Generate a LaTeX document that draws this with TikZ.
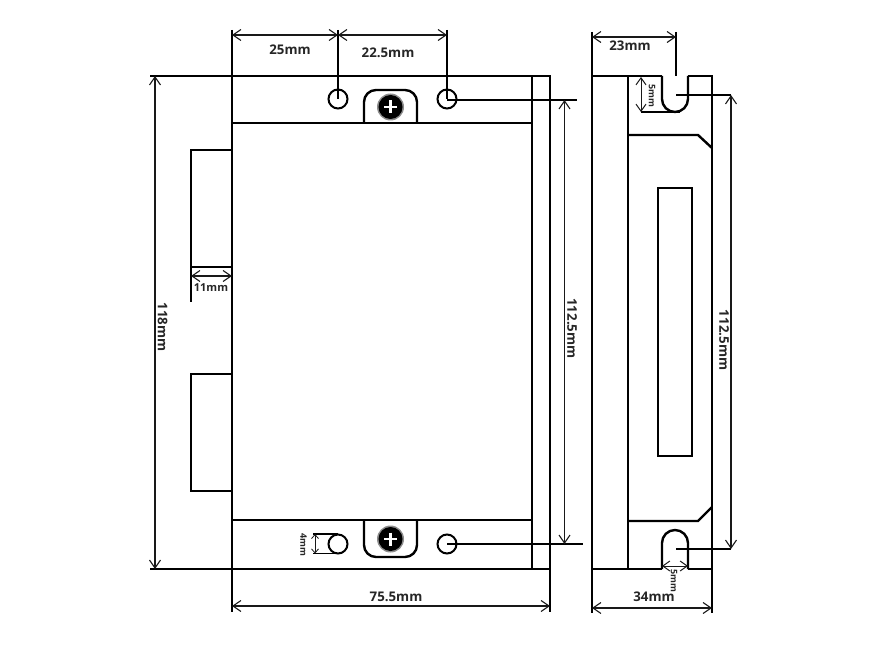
\documentclass[tikz,border=0pt]{standalone}
\usepackage{fontspec}
\setmainfont{Open Sans}
\usetikzlibrary{arrows.meta}
\tikzset{
  body/.style={draw=black,line width=2.4pt,line join=miter},
  dimline/.style={draw=black!90,line width=1.1pt,{Straight Barb[length=8pt,width=11pt,line width=1.1pt]}-{Straight Barb[length=8pt,width=11pt,line width=1.1pt]}},
  thindim/.style={draw=black!90,line width=1pt,{Straight Barb[length=7pt,width=10pt,line width=1pt]}-{Straight Barb[length=7pt,width=10pt,line width=1pt]}},
  tinydim/.style={draw=black!90,line width=0.8pt,{Straight Barb[length=4pt,width=7pt,line width=0.8pt]}-{Straight Barb[length=4pt,width=7pt,line width=0.8pt]}},
  extline/.style={draw=black,line width=1.3pt},
  hole/.style={draw=black,line width=2pt,circle,minimum size=19pt,inner sep=0pt},
  lab/.style={font=\fontsize{13.3}{13.3}\selectfont\bfseries,text=black!85,inner sep=0pt},
  vlab/.style={lab,rotate=-90},
  smallv/.style={font=\fontsize{9}{9}\selectfont\bfseries,text=black!85,inner sep=0pt,rotate=-90}
}
\begin{document}
\begin{tikzpicture}[x=1pt,y=-1pt]
\useasboundingbox (0,0) rectangle (883,652);
\fill[white] (0,0) rectangle (883,652);
% ---- front view body
\draw[body] (232,76) rectangle (550,569);
\draw[body] (532,76) -- (532,569);
\draw[body] (232,123) -- (532,123);
\draw[body] (232,520) -- (532,520);
\draw[body] (191,150) rectangle (232,267);
\draw[body] (191,374) rectangle (232,491);
% tabs
\draw[body,rounded corners=12pt] (364,123) -- (364,90) -- (417,90) -- (417,123);
\draw[body,rounded corners=12pt] (364,520) -- (364,557) -- (417,557) -- (417,520);
% screws
\foreach \n/\cy in {a/107,b/539}{
  \fill[black!45] (390.5,\cy) circle[radius=13.5];
  \fill[black] (390.5,\cy) circle[radius=12];
  \draw[white,line width=2.4pt] (384,\cy) -- (397,\cy) (390.5,\cy-6.5) -- (390.5,\cy+6.5);
}
% holes
\node[hole] (h1) at (338,99) {};
\node[hole] (h2) at (447,99) {};
\node[hole] (h3) at (338,544) {};
\node[hole] (h4) at (447,544) {};
% ---- side view body
\draw[body,rounded corners=13pt] (662,76) -- (662,112) -- (688,112) -- (688,76);
\draw[body,rounded corners=13pt] (688,569) -- (688,530) -- (662,530) -- (662,569);
\draw[body] (662,76) -- (592,76) -- (592,569) -- (662,569);
\draw[body] (688,76) -- (712,76) -- (712,569) -- (688,569);
\draw[body] (628,76) -- (628,569);
\draw[body] (628,135) -- (698,135) -- (712,148);
\draw[body] (628,521) -- (698,521) -- (712,507);
\draw[body] (658,188) rectangle (692,456);
% ---- extension lines
\draw[extline] (232,30) -- (232,76) (338,30) -- (h1.center) (447,30) -- (h2.center);
\draw[extline] (150,76) -- (232,76) (150,569) -- (232,569);
\draw[extline] (h2.center) ++(0,1) -- (577,100) (h4.center) -- (583,544);
\draw[extline] (191,267) -- (191,302);
\draw[extline] (232,569) -- (232,612) (550,569) -- (550,612);
\draw[extline] (313,534) -- (338,534) (313,553.5) -- (338,553.5);
\draw[extline] (592,32) -- (592,76) (676,32) -- (676,76);
\draw[extline] (676,95) -- (731,95) (676,549) -- (731,549);
\draw[extline] (641,112) -- (680,112);
\draw[extline] (592,569) -- (592,613) (712,569) -- (712,613);
% ---- dimension lines
\draw[dimline] (232,35) -- (338,35);
\draw[dimline] (338,35) -- (447,35);
\draw[dimline] (155,76) -- (155,569);
\draw[dimline] (191,276) -- (232,276);
\draw[dimline] (564.5,100) -- (564.5,544);
\draw[dimline] (232,606) -- (550,606);
\draw[tinydim] (315,534) -- (315,553.5);
\draw[dimline] (592,37) -- (676,37);
\draw[thindim] (641,77) -- (641,112);
\draw[dimline] (731,95) -- (731,549);
\draw[thindim] (662,566) -- (688,566);
\draw[dimline] (592,608) -- (712,608);
% ---- labels
\node[lab] (t25) at (290,50) {25mm};
\node[lab] (t225) at (388,53) {22.5mm};
\node[lab] (t23) at (630,46) {23mm};
\node[vlab] (t118) at (162.5,327) {118mm};
\node[lab,font=\fontsize{11}{11}\selectfont\bfseries] (t11) at (211,288) {11mm};
\node[vlab] (t1125a) at (572,328.5) {112.5mm};
\node[vlab] (t1125b) at (724,340) {112.5mm};
\node[lab] (t755) at (396,597) {75.5mm};
\node[lab] (t34) at (654,597) {34mm};
\node[smallv] (t4) at (303.5,545) {4mm};
\node[smallv] (t5a) at (652,96) {5mm};
\node[smallv] (t5b) at (674,581) {5mm};
\end{tikzpicture}
\end{document}
